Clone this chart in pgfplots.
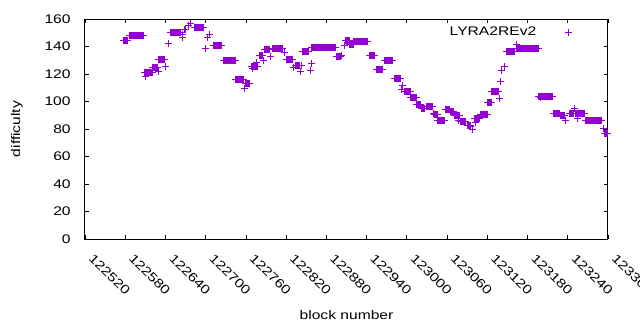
\documentclass[border=0pt]{standalone}
\usepackage{pgfplots}
\pgfplotsset{compat=1.18}
\usepackage{fontspec}
\setmainfont{Liberation Sans}[FakeStretch=1.25]
\definecolor{dv}{HTML}{9400D3}
\begin{document}
\fontsize{12.5}{15}\selectfont
\begin{tikzpicture}
\useasboundingbox (-85pt,-91pt) rectangle (555pt,239pt);
\begin{axis}[
  at={(0pt,0pt)}, anchor=south west,
  scale only axis, width=523pt, height=220pt,
  xmin=122520, xmax=123300, ymin=0, ymax=160,
  xtick={122520,122580,...,123300},
  ytick={0,20,...,160},
  tick align=inside, major tick length=4pt,
  xtick pos=both, ytick pos=both,
  tick style={black, line width=0.8pt},
  axis line style={line width=1pt},
  scaled x ticks=false,
  /pgf/number format/assume math mode=true,
  ticklabel style={font=\fontsize{12.5}{15}\selectfont},
  xticklabel style={/pgf/number format/fixed, /pgf/number format/precision=0, /pgf/number format/1000 sep={}, xshift=3pt, yshift=-14pt, rotate=-45, anchor=west},
  yticklabel style={xshift=-10pt},
  xlabel={block number}, ylabel={difficulty},
  every axis x label/.style={at={(axis description cs:0.5,0)}, yshift=-76pt, anchor=center},
  every axis y label/.style={at={(axis description cs:0,0.5)}, xshift=-68pt, rotate=90, anchor=center},
  unbounded coords=jump,
  legend style={draw=none, fill=none, font=\fontsize{12.5}{15}\selectfont,
    at={(rel axis cs:1,1)}, anchor=north east, xshift=-33pt, yshift=-4pt},
  legend plot pos=right, legend cell align=right,
  legend image code/.code={\path[draw=none] (0pt,0pt) -- (30pt,0pt); \draw[#1] plot coordinates {(30pt,0pt)};},
]
\addplot[dv, line width=7pt, forget plot] coordinates {
(122577,144.5) (122584,144.5) (122585,nan)
(122586,148) (122607,148) (122607.5,nan)
(122608,121.3) (122620,121.3) (122620.5,nan)
(122621,125) (122628,125) (122629,nan)
(122630,130.7) (122639,130.7) (122640,nan)
(122648,150.3) (122663,150.3) (122664,nan)
(122669,152.7) (122670,152.7) (122671,nan)
(122683,153.5) (122697,153.5) (122698,nan)
(122705,148.9) (122706,148.9) (122707,nan)
(122711,141) (122724,141) (122725,nan)
(122727,129.8) (122744,129.8) (122744.5,nan)
(122745,116) (122757,116) (122758,nan)
(122759,113.1) (122766,113.1) (122767,nan)
(122769,125.3) (122777,125.3) (122778,nan)
(122780,133.3) (122785,133.3) (122786,nan)
(122788,138) (122795,138) (122796,nan)
(122800,138.7) (122814,138.7) (122815,nan)
(122821,130.9) (122830,130.9) (122831,nan)
(122834,126.3) (122840,126.3) (122841,nan)
(122845,136.2) (122854,136.2) (122855,nan)
(122858,139.3) (122894,139.3) (122894.5,nan)
(122895,132.6) (122901,132.6) (122902,nan)
(122908,144.1) (122914,144.1) (122914.5,nan)
(122915,141.8) (122920,141.8) (122920.5,nan)
(122921,143.5) (122941,143.5) (122942,nan)
(122944,133.6) (122952,133.6) (122953,nan)
(122955,123.4) (122964,123.4) (122965,nan)
(122967,130) (122979,130) (122980,nan)
(122981,116.9) (122991,116.9) (122992,nan)
(122997,107.1) (123005,107.1) (123005.5,nan)
(123006,103) (123014,103) (123014.5,nan)
(123015,98) (123021,98) (123021.5,nan)
(123022,95.1) (123027,95.1) (123028,nan)
(123029,96.7) (123039,96.7) (123040,nan)
(123041,90.2) (123045,90.2) (123045.5,nan)
(123046,86) (123056,86) (123057,nan)
(123058,94.3) (123064,94.3) (123064.5,nan)
(123065,92.6) (123070,92.6) (123070.5,nan)
(123071,90) (123079,90) (123079.5,nan)
(123080,85.3) (123088,85.3) (123089,nan)
(123090,82.5) (123095,82.5) (123096,nan)
(123101,87.8) (123108,87.8) (123109,nan)
(123110,90.7) (123120,90.7) (123120.5,nan)
(123121,99.1) (123126,99.1) (123126.5,nan)
(123127,107.1) (123137,107.1) (123138,nan)
(123149,136.2) (123161,136.2) (123162,nan)
(123163,138.7) (123196,138.7) (123196.5,nan)
(123197,103.5) (123217,103.5) (123218,nan)
(123219,91.4) (123228,91.4) (123228.5,nan)
(123229,89.7) (123235,89.7) (123236,nan)
(123243,91.4) (123248,91.4) (123249,nan)
(123252,91.4) (123265,91.4) (123266,nan)
(123267,86.3) (123290,86.3) (123291,nan)
(123295,76.5) (123300,76.5)
};
\addplot[dv, only marks, mark=+, mark size=3.5pt, line width=1pt, mark options={line width=1pt}] coordinates {
(122577,144.5) (122584,144.5)
(122586,148) (122607,148)
(122608,121.3) (122620,121.3)
(122621,125) (122628,125)
(122630,130.7) (122639,130.7)
(122648,150.3) (122663,150.3)
(122669,152.7) (122670,152.7)
(122683,153.5) (122697,153.5)
(122705,148.9) (122706,148.9)
(122711,141) (122724,141)
(122727,129.8) (122744,129.8)
(122745,116) (122757,116)
(122759,113.1) (122766,113.1)
(122769,125.3) (122777,125.3)
(122780,133.3) (122785,133.3)
(122788,138) (122795,138)
(122800,138.7) (122814,138.7)
(122821,130.9) (122830,130.9)
(122834,126.3) (122840,126.3)
(122845,136.2) (122854,136.2)
(122858,139.3) (122894,139.3)
(122895,132.6) (122901,132.6)
(122908,144.1) (122914,144.1)
(122915,141.8) (122920,141.8)
(122921,143.5) (122941,143.5)
(122944,133.6) (122952,133.6)
(122955,123.4) (122964,123.4)
(122967,130) (122979,130)
(122981,116.9) (122991,116.9)
(122997,107.1) (123005,107.1)
(123006,103) (123014,103)
(123015,98) (123021,98)
(123022,95.1) (123027,95.1)
(123029,96.7) (123039,96.7)
(123041,90.2) (123045,90.2)
(123046,86) (123056,86)
(123058,94.3) (123064,94.3)
(123065,92.6) (123070,92.6)
(123071,90) (123079,90)
(123080,85.3) (123088,85.3)
(123090,82.5) (123095,82.5)
(123101,87.8) (123108,87.8)
(123110,90.7) (123120,90.7)
(123121,99.1) (123126,99.1)
(123127,107.1) (123137,107.1)
(123149,136.2) (123161,136.2)
(123163,138.7) (123196,138.7)
(123197,103.5) (123217,103.5)
(123219,91.4) (123228,91.4)
(123229,89.7) (123235,89.7)
(123243,91.4) (123248,91.4)
(123252,91.4) (123265,91.4)
(123267,86.3) (123290,86.3)
(123295,76.5) (123299,76.5)
(122610,118.3) (122630,121.7) (122640,125.1) (122644,142.3)
(122665,148.4) (122666,146.4) (122674,155.6) (122677,157)
(122699,138.7) (122702,146.4) (122758,109.6) (122770,124.1)
(122776,128.5) (122786,129.5) (122797,132.4) (122817,135.8)
(122831,124.6) (122841,121.7) (122843,126.5) (122856,122.9)
(122858,127.8) (122903,133.8) (122907,140.4) (122992,108.4)
(122994,112) (123040,91.4) (123077,86.5) (123095,81.7)
(123098,79.3) (123102,84.6) (123138,102.3) (123139,114.4)
(123141,122.9) (123145,125.3) (123164,141.6) (123200,102.8)
(123236,86.5) (123250,95) (123255,87.8) (123293,80.5)
};
\addlegendentry{LYRA2REv2}
\end{axis}
\end{tikzpicture}
\end{document}
